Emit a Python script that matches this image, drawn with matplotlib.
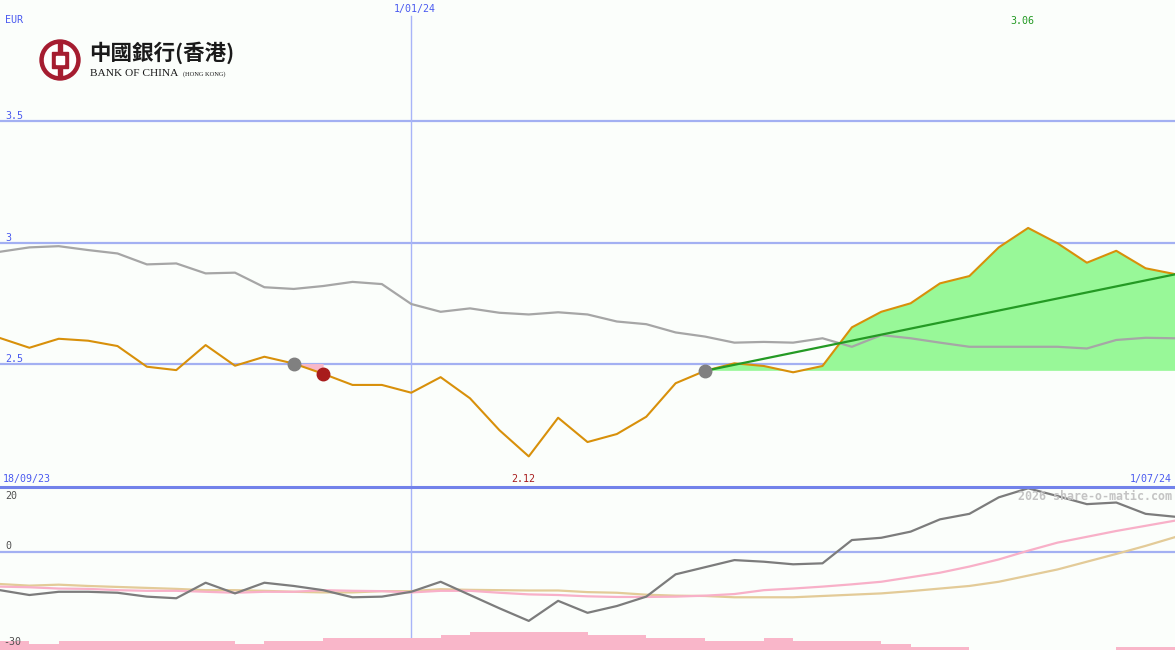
import numpy as np
import matplotlib.pyplot as plt
from matplotlib.patches import Circle, Rectangle

# --- data (weekly points, index 0 = 18/09/23, last = 1/07/24) ---
price = [2.607, 2.567, 2.604, 2.596, 2.574, 2.489, 2.475, 2.578, 2.493, 2.530,
         2.502, 2.460, 2.414, 2.414, 2.382, 2.446, 2.359, 2.228, 2.120, 2.279,
         2.179, 2.212, 2.283, 2.421, 2.472, 2.503, 2.492, 2.466, 2.492, 2.651,
         2.715, 2.750, 2.832, 2.862, 2.980, 3.060, 2.997, 2.917, 2.966, 2.894,
         2.870]
avg_line = [2.962, 2.980, 2.985, 2.969, 2.955, 2.910, 2.914, 2.873, 2.876, 2.816,
            2.809, 2.821, 2.838, 2.829, 2.747, 2.715, 2.729, 2.711, 2.704, 2.713,
            2.704, 2.675, 2.664, 2.630, 2.613, 2.588, 2.591, 2.588, 2.606, 2.571,
            2.619, 2.606, 2.588, 2.571, 2.571, 2.571, 2.571, 2.564, 2.599, 2.608,
            2.606]
momentum = [-11.9, -13.4, -12.4, -12.4, -12.7, -13.9, -14.4, -9.6, -12.9, -9.6,
            -10.6, -11.9, -14.1, -13.9, -12.4, -9.3, -13.4, -17.5, -21.4, -15.2,
            -18.9, -16.8, -13.9, -7.0, -4.8, -2.6, -3.1, -3.9, -3.6, 3.6,
            4.3, 6.2, 10.0, 11.7, 16.8, 19.6, 17.2, 14.7, 15.2, 11.7,
            10.8]
signal = [-10.8, -11.0, -11.4, -11.5, -11.9, -12.1, -12.1, -12.4, -12.7, -12.4,
          -12.4, -11.9, -12.1, -12.2, -12.6, -12.1, -12.1, -12.7, -13.2, -13.4,
          -13.8, -14.0, -14.0, -13.9, -13.6, -13.1, -11.9, -11.4, -10.8, -10.1,
          -9.3, -7.9, -6.5, -4.6, -2.4, 0.3, 2.8, 4.6, 6.4, 8.0,
          9.6]
slow = [-10.0, -10.5, -10.2, -10.6, -10.9, -11.2, -11.5, -11.9, -11.9, -12.1,
        -12.4, -12.6, -12.6, -12.2, -12.2, -11.6, -11.8, -11.9, -12.0, -12.0,
        -12.5, -12.7, -13.3, -13.6, -13.7, -14.1, -14.1, -14.1, -13.7, -13.3,
        -12.9, -12.2, -11.4, -10.6, -9.3, -7.4, -5.5, -3.1, -0.7, 1.8,
        4.5]
volume = [3, 2, 3, 3, 3, 3, 3, 3, 2, 3, 3, 4, 4, 4, 4, 5, 6, 6, 6, 6,
          5, 5, 4, 4, 3, 3, 4, 3, 3, 3, 2, 1, 1, 0, 0, 0, 0, 0, 1, 1]
trend_idx = [24, 40]
trend_val = [2.472, 2.869]
sell_idx = [10, 11]
buy_idx = 24
date_labels = ["18/09/23", "1/01/24", "1/07/24"]
year_idx = 14

W, H = 1175, 650
bg = "#fbfefb"
blue_txt = "#4a5af0"
grid_c = "#a3b0f2"
mono = "DejaVu Sans Mono"

x = np.arange(len(price))
p = np.array(price)

fig = plt.figure(figsize=(W / 100, H / 100), dpi=100)
fig.patch.set_facecolor(bg)

# --- top panel ---
ax = fig.add_axes([0, 163 / H, 1, 487 / H])
ax.set_axis_off()
ax.set_xlim(0, 40)
ax.set_ylim(1.994, 3.998)
for lvl in [2.5, 3.0, 3.5]:
    ax.axhline(lvl, color=grid_c, lw=1.6, zorder=1)
ax.axvline(year_idx, ymax=1 - 16 / 487, color="#a8b4f8", lw=1, zorder=1)

# gain/loss area since the buy signal
xs = x[buy_idx:]
base = price[buy_idx]
ax.fill_between(xs, base, p[buy_idx:], where=p[buy_idx:] >= base,
                interpolate=True, color="#98f898", lw=0, zorder=2)
ax.fill_between(xs, base, p[buy_idx:], where=p[buy_idx:] < base,
                interpolate=True, color="#f8b8c8", lw=0, zorder=2)
# small drop after sell signal
xs2 = x[sell_idx[0]:sell_idx[1] + 1]
ax.fill_between(xs2, price[sell_idx[0]], p[sell_idx[0]:sell_idx[1] + 1],
                color="#f8b8c8", lw=0, zorder=2)

ax.plot(x, avg_line, color="#a6a6a6", lw=1.6, zorder=3)
ax.plot(x, price, color="#d8900a", lw=1.5, zorder=4)
ax.plot(trend_idx, trend_val, color="#249a24", lw=1.6, zorder=5)
ax.plot(sell_idx[0], price[sell_idx[0]], "o", ms=9, color="#808080", zorder=6)
ax.plot(sell_idx[1], price[sell_idx[1]], "o", ms=9, color="#a81c1c", zorder=6)
ax.plot(buy_idx, price[buy_idx], "o", ms=9, color="#808080", zorder=6)

# --- bottom panel ---
axb = fig.add_axes([0, 0, 1, 163 / H])
axb.set_axis_off()
axb.set_xlim(0, 40)
axb.set_ylim(-30.4, 20)
axb.axhline(0, color=grid_c, lw=1.6, zorder=1)
axb.axvline(year_idx, color="#a8b4f8", lw=1, zorder=1)
axb.plot(x, slow, color="#e3cb98", lw=1.6, zorder=3)
axb.plot(x, signal, color="#f8b0c8", lw=1.6, zorder=3)
axb.plot(x, momentum, color="#7c7c7c", lw=1.6, zorder=4)
axb.bar(np.arange(len(volume)), np.array(volume) * 0.93, width=1, align="edge",
        bottom=-30.4, color="#f9b6c9", lw=0, zorder=5)

# --- overlay in pixel coordinates for labels and logo ---
ov = fig.add_axes([0, 0, 1, 1])
ov.set_axis_off()
ov.set_xlim(0, W)
ov.set_ylim(H, 0)
ov.patch.set_alpha(0)
ov.plot([0, W], [487, 487], color="#7282ea", lw=2.2)

fs = 7.2
ov.text(5, 20, "EUR", color=blue_txt, family=mono, fontsize=fs, va="center")
ov.text(5, 116, "3.5", color=blue_txt, family=mono, fontsize=fs, va="center")
ov.text(5, 238, "3", color=blue_txt, family=mono, fontsize=fs, va="center")
ov.text(5, 359, "2.5", color=blue_txt, family=mono, fontsize=fs, va="center")
ov.text(394, 9, date_labels[1], color=blue_txt, family=mono, fontsize=fs, va="center")
ov.text(3, 479, date_labels[0], color=blue_txt, family=mono, fontsize=fs, va="center")
ov.text(1172, 479, date_labels[2], color=blue_txt, family=mono, fontsize=fs,
        va="center", ha="right")
ov.text(1010, 21, f"{max(price):.2f}", color="#229922", family=mono, fontsize=fs, va="center")
ov.text(511, 479, f"{min(price):.2f}", color="#a81c1c", family=mono, fontsize=fs, va="center")
ov.text(5, 496, "20", color="#505050", family=mono, fontsize=fs, va="center")
ov.text(5, 546, "0", color="#505050", family=mono, fontsize=fs, va="center")
ov.text(3, 642, "-30", color="#505050", family=mono, fontsize=fs, va="center")
ov.text(1172, 496, "2026 share-o-matic.com", color="#c4c4c4", family=mono,
        fontsize=8.4, fontweight="bold", va="center", ha="right", zorder=0)

# logo
red = "#a51c30"
ov.add_patch(Circle((60, 60), 20, color=red))
ov.add_patch(Circle((60, 60), 15.5, color="white"))
ov.add_patch(Rectangle((52, 52), 16, 16, color=red))
ov.add_patch(Rectangle((58, 42), 4, 36, color=red))
ov.add_patch(Rectangle((56, 56), 8, 8, color="white"))
ov.text(89, 53, "中國銀行(香港)", family=["Noto Sans CJK TC", "DejaVu Sans"],
        fontsize=15.5, fontweight="bold", color="#1a1a1a", va="center")
ov.text(90, 74, "BANK OF CHINA", family="Liberation Serif", fontsize=8.2,
        color="#1a1a1a", va="center")
ov.text(183, 74, "(HONG KONG)", family="Liberation Serif", fontsize=4.6,
        color="#1a1a1a", va="center")

fig.savefig("out.png", dpi=100, facecolor=bg)
